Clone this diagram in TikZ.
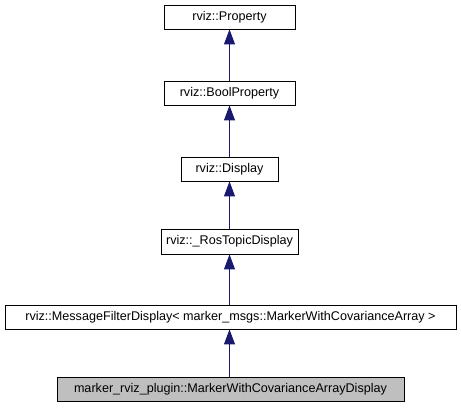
\documentclass[tikz,border=0pt]{standalone}
\usepackage{fontspec}
\setmainfont{Liberation Sans}
\usetikzlibrary{arrows.meta}
\definecolor{edgeblue}{HTML}{191970}
\definecolor{graygfill}{HTML}{BFBFBF}
\tikzset{
  cls/.style={draw=black, fill=white, line width=0.9pt, inner sep=0pt, font=\fontsize{12.6}{14}\selectfont, text height=9pt, text depth=2.5pt},
  inh/.style={draw=edgeblue, line width=0.9pt, -{Triangle[length=15pt,width=11pt]}}
}
\begin{document}
\begin{tikzpicture}[x=1pt,y=-1pt]
\useasboundingbox (0,0) rectangle (461,411);
\node[cls, minimum width=131pt, minimum height=24pt] (prop) at (229.5,17) {rviz::Property};
\node[cls, minimum width=131pt, minimum height=24pt] (bool) at (229.5,93) {rviz::BoolProperty};
\node[cls, minimum width=97pt, minimum height=24pt] (disp) at (229.5,169) {rviz::Display};
\node[cls, minimum width=137pt, minimum height=25pt] (ros) at (229.5,241.5) {rviz::\_RosTopicDisplay};
\node[cls, minimum width=451pt, minimum height=24pt] (mfd) at (230.5,317) {rviz::MessageFilterDisplay< marker\_msgs::MarkerWithCovarianceArray >};
\node[cls, fill=graygfill, minimum width=347pt, minimum height=24pt] (main) at (230.5,389) {marker\_rviz\_plugin::MarkerWithCovarianceArrayDisplay};
\draw[inh] (bool.north) -- (prop.south);
\draw[inh] (disp.north) -- (bool.south);
\draw[inh] (ros.north) -- (disp.south);
\draw[inh] (mfd.north -| ros.south) -- (ros.south);
\draw[inh] (main.north -| ros.south) -- (mfd.south -| ros.south);
\end{tikzpicture}
\end{document}
